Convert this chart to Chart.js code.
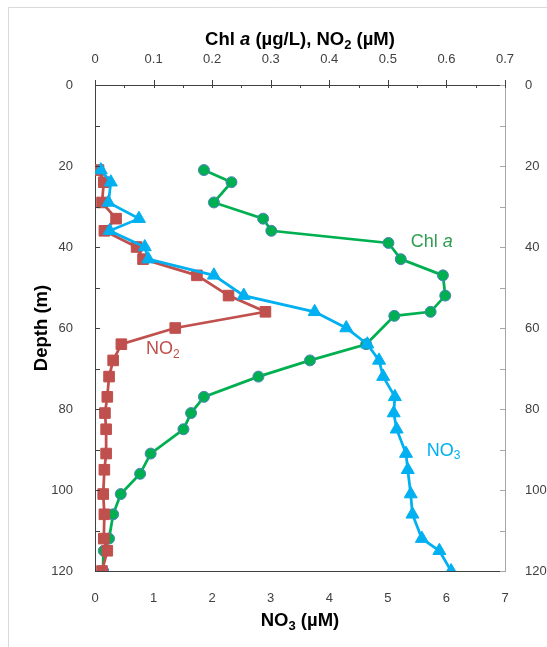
<!DOCTYPE html>
<html>
<head>
<meta charset="utf-8">
<script src="https://cdn.jsdelivr.net/npm/chart.js@4.4.0/dist/chart.umd.min.js"></script>
<style>
  html, body { margin: 0; padding: 0; background: #fff; }
  canvas { display: block; }
</style>
</head>
<body>
<canvas id="chart" width="547" height="647"></canvas>
<script>
/* --------------------- DATA -------------------- */
// depths of the nutrient samples (m)
const nutDepth = [21, 24, 29, 33, 36, 40, 43, 47, 52, 56, 60, 64, 68, 72, 77, 81, 85, 91, 95, 101, 106, 112, 115, 120];
// NO3 (uM), bottom axis
const no3 = [0.10, 0.27, 0.23, 0.75, 0.25, 0.85, 0.91, 2.03, 2.54, 3.75, 4.29, 4.65, 4.85, 4.92, 5.12, 5.10, 5.15, 5.31, 5.34, 5.39, 5.42, 5.58, 5.88, 6.08];
// NO2 (uM), top axis
const no2 = [0.006, 0.015, 0.012, 0.036, 0.016, 0.071, 0.082, 0.174, 0.228, 0.291, 0.137, 0.045, 0.031, 0.024, 0.021, 0.017, 0.019, 0.019, 0.016, 0.014, 0.016, 0.015, 0.021, 0.012];
// Chl a depths (m) and values (ug/L), top axis
const chlDepth = [21, 24, 29, 33, 36, 39, 43, 47, 52, 56, 57, 64, 68, 72, 77, 81, 85, 91, 96, 101, 106, 112, 115, 120];
const chl = [0.186, 0.233, 0.203, 0.287, 0.301, 0.501, 0.522, 0.594, 0.598, 0.573, 0.511, 0.463, 0.367, 0.279, 0.186, 0.164, 0.151, 0.095, 0.077, 0.044, 0.031, 0.024, 0.015, 0.014];

// axis ranges
const no3Max = 7;
const topMax = 0.7;
const depthMax = 120;

/* --------------------- COLOURS -------------------- */
const GREEN = "#00B050";
const RED = "#C0504D";
const BLUE = "#00B0F0";
const TEXT = "#404040";
const FONT = "'Liberation Sans', Arial, sans-serif";

function pts(xs, ys) {
  return xs.map((v, i) => ({ x: v, y: ys[i] }));
}

/* --------------------- HELPERS -------------------- */
// draw text made of runs (normal / italic / subscript), centred on cx
function drawRuns(ctx, runs, cx, cy, size, color) {
  const fontOf = (r) => (r.italic ? "italic " : "") + (r.bold ? "bold " : "") +
    (r.sub ? Math.round(size * 0.68) : size) + "px " + FONT;
  let total = 0;
  runs.forEach((r) => { ctx.font = fontOf(r); total += ctx.measureText(r.t).width; });
  let x = cx - total / 2;
  ctx.fillStyle = color;
  ctx.textBaseline = "middle";
  ctx.textAlign = "left";
  runs.forEach((r) => {
    ctx.font = fontOf(r);
    ctx.fillText(r.t, x, cy + (r.sub ? size * 0.3 : 0));
    x += ctx.measureText(r.t).width;
  });
}

/* --------------------- DECORATION PLUGIN -------------------- */
const decor = {
  id: "decor",
  beforeDraw(chart) {
    const ctx = chart.ctx;
    ctx.save();
    ctx.strokeStyle = "#D9D9D9";
    ctx.lineWidth = 1;
    ctx.beginPath();
    ctx.moveTo(8.5, 700);
    ctx.lineTo(8.5, 7.5);
    ctx.lineTo(700, 7.5);
    ctx.stroke();
    ctx.restore();
  },
  afterDraw(chart) {
    const ctx = chart.ctx;
    const { x, x2, y, y2 } = chart.scales;
    const a = chart.chartArea;
    ctx.save();
    ctx.lineWidth = 1;

    // left axis ticks (inside)
    ctx.strokeStyle = TEXT;
    for (let d = 0; d <= depthMax; d += 10) {
      const py = Math.round(y.getPixelForValue(d)) + 0.5;
      ctx.beginPath(); ctx.moveTo(a.left, py); ctx.lineTo(a.left + 5, py); ctx.stroke();
    }
    // right axis ticks (inside)
    ctx.strokeStyle = "#A6A6A6";
    for (let d = 0; d <= depthMax; d += 10) {
      const py = Math.round(y2.getPixelForValue(d)) + 0.5;
      ctx.beginPath(); ctx.moveTo(a.right, py); ctx.lineTo(a.right - 5, py); ctx.stroke();
    }
    // top axis ticks: major cross, minor inside
    ctx.strokeStyle = TEXT;
    for (let i = 0; i <= 14; i++) {
      const px = Math.round(x2.getPixelForValue(i * 0.05)) + 0.5;
      ctx.beginPath();
      if (i % 2 === 0) { ctx.moveTo(px, a.top - 5); ctx.lineTo(px, a.top + 3); }
      else { ctx.moveTo(px, a.top); ctx.lineTo(px, a.top + 3); }
      ctx.stroke();
    }

    // axis titles
    drawRuns(ctx, [
      { t: "Chl ", bold: true }, { t: "a", bold: true, italic: true },
      { t: " (\u00B5g/L), NO", bold: true }, { t: "2", bold: true, sub: true },
      { t: " (\u00B5M)", bold: true }
    ], (a.left + a.right) / 2, 40, 18.5, "#000");
    drawRuns(ctx, [
      { t: "NO", bold: true }, { t: "3", bold: true, sub: true }, { t: " (\u00B5M)", bold: true }
    ], (a.left + a.right) / 2, 621, 18.5, "#000");

    ctx.save();
    ctx.translate(42, (a.top + a.bottom) / 2);
    ctx.rotate(-Math.PI / 2);
    drawRuns(ctx, [{ t: "Depth (m)", bold: true }], 0, 0, 18.5, "#000");
    ctx.restore();

    // series labels
    drawRuns(ctx, [{ t: "Chl " }, { t: "a", italic: true }],
      x.getPixelForValue(5.75), y.getPixelForValue(38.8), 18, "#2F9E50");
    drawRuns(ctx, [{ t: "NO" }, { t: "2", sub: true }],
      x.getPixelForValue(1.16), y.getPixelForValue(65.3), 18, RED);
    drawRuns(ctx, [{ t: "NO" }, { t: "3", sub: true }],
      x.getPixelForValue(5.95), y.getPixelForValue(90.3), 18, BLUE);

    ctx.restore();
  }
};

/* --------------------- CHART -------------------- */
const tickFont = { family: FONT, size: 13 };

new Chart(document.getElementById("chart"), {
  type: "scatter",
  data: {
    datasets: [
      {
        label: "NO3",
        data: pts(no3, nutDepth),
        xAxisID: "x", yAxisID: "y",
        showLine: true,
        borderColor: BLUE, borderWidth: 2.75,
        pointStyle: "triangle", pointRadius: 7.5,
        pointBackgroundColor: BLUE, pointBorderColor: BLUE, pointBorderWidth: 1
      },
      {
        label: "NO2",
        data: pts(no2, nutDepth),
        xAxisID: "x2", yAxisID: "y",
        showLine: true,
        borderColor: RED, borderWidth: 2.75,
        pointStyle: "rect", pointRadius: 7.5,
        pointBackgroundColor: RED, pointBorderColor: RED, pointBorderWidth: 1
      },
      {
        label: "Chl a",
        data: pts(chl, chlDepth),
        xAxisID: "x2", yAxisID: "y",
        showLine: true,
        borderColor: GREEN, borderWidth: 2.75,
        pointStyle: "circle", pointRadius: 5.5,
        pointBackgroundColor: GREEN, pointBorderColor: "#4F81BD", pointBorderWidth: 1
      }
    ]
  },
  options: {
    responsive: false,
    animation: false,
    layout: { padding: 0 },
    plugins: { legend: { display: false }, tooltip: { enabled: false } },
    scales: {
      x: {
        type: "linear", position: "bottom", min: 0, max: no3Max,
        ticks: { stepSize: 1, color: TEXT, font: tickFont, padding: 12 },
        grid: { display: false },
        border: { color: TEXT, width: 1 },
        afterFit: (s) => { s.height = 76; }
      },
      x2: {
        type: "linear", position: "top", min: 0, max: topMax,
        ticks: { stepSize: 0.1, color: TEXT, font: tickFont, padding: 10,
          callback: (v) => (Math.round(v * 10) / 10).toString() },
        grid: { display: false },
        border: { color: TEXT, width: 1 },
        afterFit: (s) => { s.height = 85; }
      },
      y: {
        type: "linear", position: "left", reverse: true, min: 0, max: depthMax,
        ticks: { stepSize: 10, color: TEXT, font: tickFont, padding: 14,
          callback: (v) => (v % 20 === 0 ? v : "") },
        grid: { display: false },
        border: { color: TEXT, width: 1 },
        afterFit: (s) => { s.width = 95; }
      },
      y2: {
        type: "linear", position: "right", reverse: true, min: 0, max: depthMax,
        ticks: { stepSize: 10, color: TEXT, font: tickFont, padding: 12,
          callback: (v) => (v % 20 === 0 ? v : "") },
        grid: { display: false },
        border: { color: "#A6A6A6", width: 1 },
        afterFit: (s) => { s.width = 42; }
      }
    }
  },
  plugins: [decor]
});
</script>
</body>
</html>
